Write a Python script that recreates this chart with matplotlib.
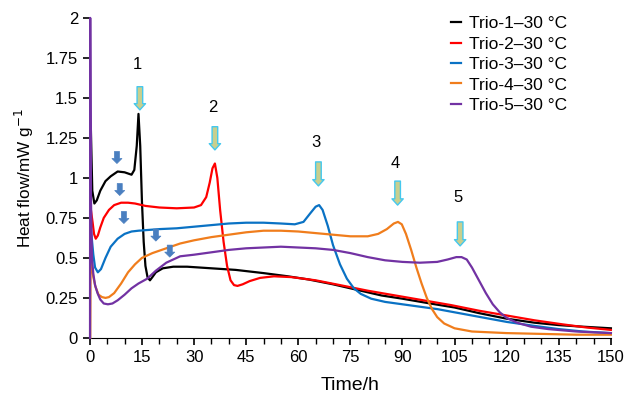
import matplotlib.pyplot as plt
from matplotlib.ticker import MultipleLocator, FormatStrFormatter

plt.rcParams['font.family'] = ['Liberation Sans', 'DejaVu Sans']

# Trio-1
t1 = [0.3, 0.7, 1.3, 2, 3, 4.5, 6, 8, 10, 12, 12.8, 13.5, 14.0, 14.5, 15.0, 15.5, 16,
      16.6, 17.3, 18, 19, 21, 24, 28, 35, 42, 50, 57, 63, 70, 77, 84, 90, 98, 105,
      112, 120, 128, 135, 142, 150]
y1 = [1.3, 0.92, 0.84, 0.86, 0.92, 0.98, 1.01, 1.04, 1.035, 1.02, 1.05, 1.2, 1.40, 1.2,
      0.85, 0.6, 0.45, 0.38, 0.36, 0.38, 0.41, 0.435, 0.445, 0.445, 0.435, 0.425, 0.405,
      0.385, 0.365, 0.335, 0.30, 0.265, 0.245, 0.215, 0.19, 0.155, 0.12, 0.095, 0.08,
      0.07, 0.06]

# Trio-2
t2 = [0.3, 0.8, 1.2, 1.7, 2.3, 3, 4, 5.5, 7, 9, 11, 13, 16, 20, 25, 30, 32, 33.5, 34.5,
      35.3, 36, 36.7, 37.5, 38.5, 39.5, 40.5, 41.5, 42.5, 44, 46, 49, 53, 58, 65, 72,
      80, 88, 96, 104, 112, 120, 128, 136, 143, 150]
y2 = [0.8, 0.72, 0.65, 0.62, 0.64, 0.69, 0.75, 0.80, 0.83, 0.845, 0.845, 0.84, 0.825,
      0.815, 0.81, 0.815, 0.83, 0.88, 0.97, 1.06, 1.09, 1.0, 0.8, 0.6, 0.45, 0.36, 0.33,
      0.325, 0.335, 0.355, 0.375, 0.385, 0.38, 0.36, 0.33, 0.295, 0.265, 0.235, 0.205,
      0.17, 0.14, 0.11, 0.085, 0.065, 0.05]

# Trio-3
t3 = [0.3, 1.0, 1.5, 2.3, 3.2, 4.5, 6, 8, 10, 12, 14, 17, 20, 25, 30, 35, 40, 45, 50,
      55, 59, 61.5, 63.5, 65, 66, 67, 68.5, 70, 72, 74, 76, 78, 81, 85, 90, 95, 100,
      105, 110, 115, 120, 128, 135, 142, 150]
y3 = [0.68, 0.52, 0.44, 0.41, 0.43, 0.50, 0.57, 0.62, 0.65, 0.665, 0.67, 0.675, 0.68,
      0.685, 0.695, 0.705, 0.715, 0.72, 0.72, 0.715, 0.71, 0.725, 0.78, 0.82, 0.83, 0.8,
      0.70, 0.58, 0.46, 0.37, 0.31, 0.275, 0.245, 0.225, 0.21, 0.195, 0.18, 0.16, 0.14,
      0.12, 0.10, 0.075, 0.055, 0.04, 0.03]

# Trio-4
t4 = [0.1, 0.2, 0.6, 1.0, 1.6, 2.5, 3.5, 4.5, 5.5, 7, 9, 11, 13, 15, 18, 22, 26, 30,
      35, 40, 45, 50, 55, 60, 65, 70, 75, 80, 83, 85.5, 87.5, 88.7, 89.8, 91, 92.5, 94,
      95.5, 97, 98.5, 100, 102, 105, 110, 115, 120, 130, 140, 150]
y4 = [0, 0.52, 0.44, 0.38, 0.32, 0.27, 0.255, 0.25, 0.255, 0.28, 0.34, 0.41, 0.46, 0.50,
      0.53, 0.56, 0.59, 0.61, 0.63, 0.645, 0.66, 0.67, 0.67, 0.665, 0.655, 0.645, 0.635,
      0.635, 0.65, 0.68, 0.715, 0.725, 0.71, 0.65, 0.55, 0.44, 0.34, 0.25, 0.18, 0.13,
      0.09, 0.06, 0.04, 0.035, 0.03, 0.025, 0.02, 0.02]

# Trio-5
t5 = [0.05, 0.1, 0.3, 0.6, 1.0, 1.5, 2.2, 3, 4, 5.2, 6.5, 8, 10, 12, 14, 16.5, 19, 22,
      26, 30, 35, 40, 45, 50, 55, 60, 65, 70, 75, 80, 85, 90, 95, 100, 103, 105.5, 107,
      108.5, 110, 112, 114, 116, 118, 120, 123, 127, 132, 140, 150]
y5 = [0, 2.0, 0.9, 0.5, 0.4, 0.33, 0.28, 0.24, 0.215, 0.21, 0.215, 0.235, 0.27, 0.31,
      0.34, 0.37, 0.42, 0.47, 0.51, 0.52, 0.535, 0.55, 0.56, 0.565, 0.57, 0.565, 0.56,
      0.55, 0.53, 0.505, 0.485, 0.475, 0.47, 0.475, 0.49, 0.505, 0.505, 0.49, 0.44, 0.36,
      0.28, 0.21, 0.16, 0.125, 0.095, 0.07, 0.055, 0.04, 0.03]

labels = ['Trio-1\u201330 \u00b0C', 'Trio-2\u201330 \u00b0C', 'Trio-3\u201330 \u00b0C',
          'Trio-4\u201330 \u00b0C', 'Trio-5\u201330 \u00b0C']
colors = ['black', '#ff0000', '#0a72c4', '#f07d1c', '#7232a3']

# peak markers (number, x, arrow top, arrow bottom)
peak_names = ['1', '2', '3', '4', '5']
peak_x = [14.4, 36, 65.8, 88.6, 106.6]
peak_top = [1.57, 1.32, 1.10, 0.98, 0.725]
peak_bot = [1.425, 1.175, 0.95, 0.83, 0.575]
label_y = [1.71, 1.44, 1.22, 1.09, 0.875]

# small blue arrows (x, tip y)
small_x = [7.8, 8.6, 9.8, 19.0, 23.0]
small_y = [1.09, 0.89, 0.715, 0.605, 0.505]

fig = plt.figure(figsize=(6.24, 3.98), dpi=100)
ax = fig.add_axes([0.144, 0.151, 0.835, 0.804])

for t, y, c, lab in zip([t1, t2, t3, t4, t5], [y1, y2, y3, y4, y5], colors, labels):
    ax.plot(t, y, color=c, lw=1.6, label=lab, zorder=3, clip_on=False)

for name, x, yt, yb, ly in zip(peak_names, peak_x, peak_top, peak_bot, label_y):
    ax.annotate('', xy=(x, yb), xytext=(x, yt),
                arrowprops=dict(arrowstyle='simple,head_length=0.5,head_width=0.9,tail_width=0.45',
                                fc='#c8cf8e', ec='#45c8ee', lw=1.0, mutation_scale=9,
                                shrinkA=0, shrinkB=0))
    ax.text(x - 0.6, ly, name, fontsize=12, ha='center', va='center')

for x, y in zip(small_x, small_y):
    ax.annotate('', xy=(x, y), xytext=(x, y + 0.075),
                arrowprops=dict(arrowstyle='simple,head_length=0.45,head_width=0.9,tail_width=0.45',
                                fc='#4a7fc0', ec='#4a7fc0', lw=0.5, mutation_scale=8,
                                shrinkA=0, shrinkB=0))

ax.set_xlim(0, 150)
ax.set_ylim(0, 2)
ax.xaxis.set_major_locator(MultipleLocator(15))
ax.xaxis.set_minor_locator(MultipleLocator(5))
ax.yaxis.set_major_locator(MultipleLocator(0.25))
ax.yaxis.set_major_formatter(FormatStrFormatter('%g'))
for s in ['top', 'right']:
    ax.spines[s].set_visible(False)
ax.tick_params(which='major', direction='out', length=5, width=1.2, labelsize=12)
ax.tick_params(which='minor', direction='out', length=4, width=1.0)
ax.set_xlabel('Time/h', fontsize=14, labelpad=9)
ax.set_ylabel('Heat flow/mW g$^{-1}$', fontsize=12.3, labelpad=7)

ax.legend(loc='upper left', bbox_to_anchor=(0.694, 1.005), borderaxespad=0, borderpad=0,
          frameon=False, fontsize=12.5, handlelength=0.55, handletextpad=0.45,
          labelspacing=0.3)

fig.savefig('out.png', dpi=100)
